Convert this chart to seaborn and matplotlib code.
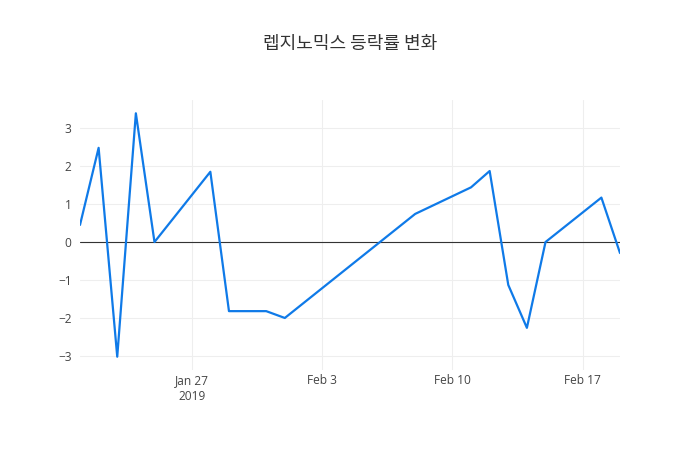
import pandas as pd
import numpy as np
import seaborn as sns
import matplotlib.pyplot as plt
import matplotlib.dates as mdates

dates = ["2019-01-21", "2019-01-22", "2019-01-23", "2019-01-24", "2019-01-25",
         "2019-01-28", "2019-01-29", "2019-01-30", "2019-01-31", "2019-02-01",
         "2019-02-08", "2019-02-11", "2019-02-12", "2019-02-13", "2019-02-14",
         "2019-02-15", "2019-02-18", "2019-02-19"]
change = [0.45, 2.48, -3.02, 3.39, 0.0,
          1.85, -1.82, -1.82, -1.82, -2.0,
          0.74, 1.44, 1.87, -1.13, -2.26,
          0.0, 1.17, -0.29]
tick_dates = ["2019-01-27", "2019-02-03", "2019-02-10", "2019-02-17"]
tick_labels = ["Jan 27\n2019", "Feb 3", "Feb 10", "Feb 17"]
y_ticks = [-3, -2, -1, 0, 1, 2, 3]

df = pd.DataFrame({"date": pd.to_datetime(dates), "change": change})

sns.set_theme(style="white")
plt.rcParams["font.family"] = ["Noto Sans CJK KR", "Open Sans", "DejaVu Sans"]

fig = plt.figure(figsize=(7, 4.5), dpi=100)
ax = fig.add_axes([80 / 700, 80 / 450, 540 / 700, 270 / 450])

sns.lineplot(data=df, x="date", y="change", ax=ax, color="#0f7ae8", linewidth=1.6)
ax.axhline(0, color="#333333", linewidth=0.8, zorder=1)

ax.set_xlim(df["date"].min(), df["date"].max())
ax.set_ylim(-3.37, 3.74)

ax.set_xticks(pd.to_datetime(tick_dates))
ax.set_xticklabels(tick_labels, linespacing=1.3)
ax.set_yticks(y_ticks)
ax.set_yticklabels([str(v).replace("-", "\u2212") for v in y_ticks])

ax.grid(True, color="#eeeeee", linewidth=0.8)
ax.set_axisbelow(True)
for s in ax.spines.values():
    s.set_visible(False)
ax.tick_params(axis="both", length=0, labelsize=8.6, labelcolor="#444444")
ax.tick_params(axis="x", pad=3)
ax.tick_params(axis="y", pad=6)
for lbl in ax.get_xticklabels():
    lbl.set_family(["Open Sans", "DejaVu Sans"])
for lbl in ax.get_yticklabels():
    lbl.set_family(["Open Sans", "DejaVu Sans"])
ax.set_xlabel("")
ax.set_ylabel("")

fig.text(0.5, 1 - 44 / 450, "렙지노믹스 등락률 변화", ha="center", va="center",
         fontsize=13, color="#333333")

fig.savefig("out.png", dpi=100)
